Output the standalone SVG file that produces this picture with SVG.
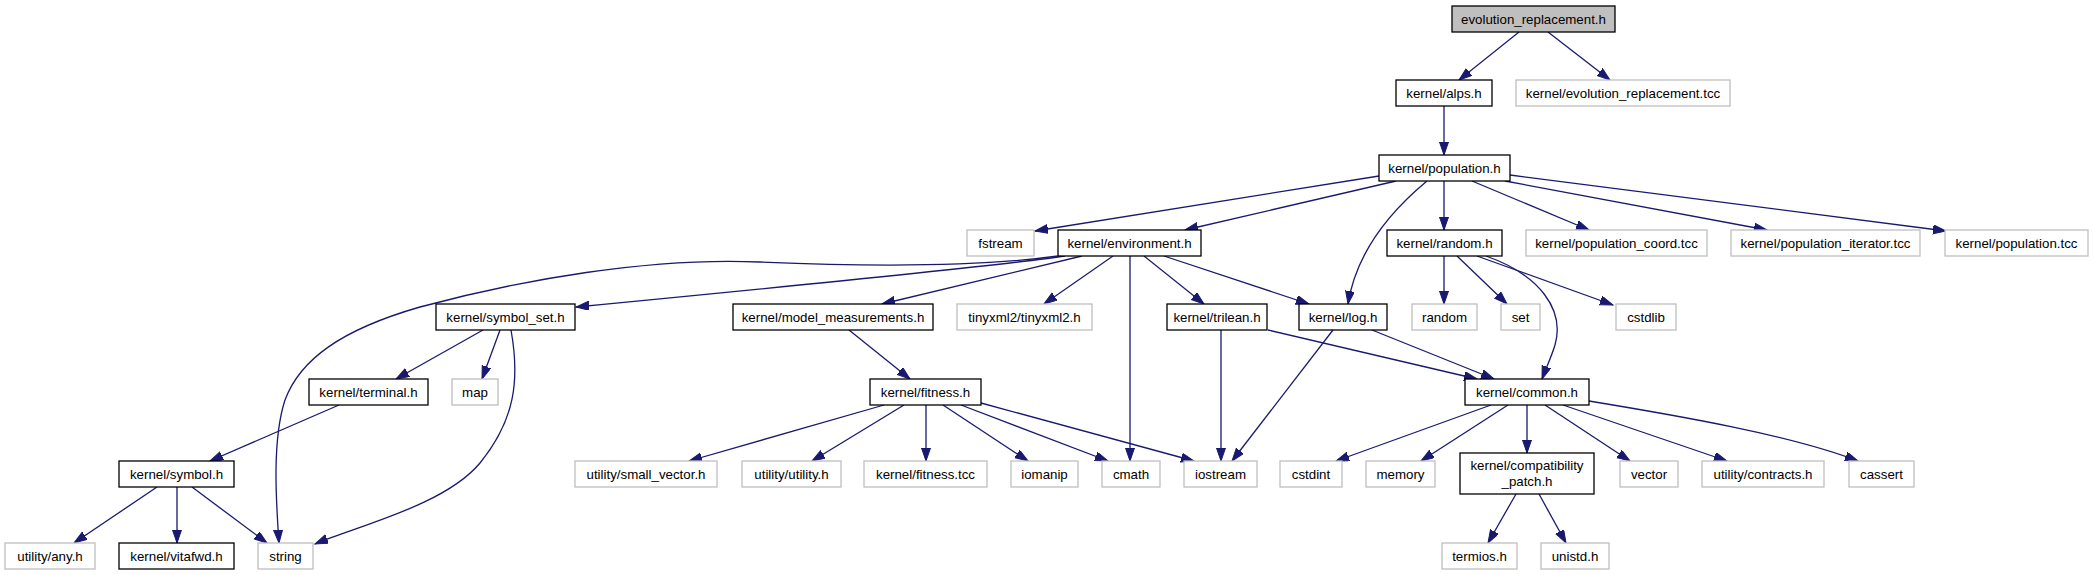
<svg xmlns="http://www.w3.org/2000/svg" width="2093" height="575" viewBox="0 0 2093 575">
<style>
rect{fill:#ffffff;stroke:#000000;stroke-width:1.3}
.g rect{stroke:#bfbfbf}
.root rect{fill:#bfbfbf}
text{font-family:"Liberation Sans",Arial,sans-serif;font-size:13.3px;fill:#000000;text-anchor:middle}
#edges path{fill:none;stroke:#191970;stroke-width:1.3;marker-end:url(#ah)}
</style>
<defs>
<marker id="ah" markerUnits="userSpaceOnUse" markerWidth="14" markerHeight="10" refX="13" refY="4.5" orient="auto">
<path d="M0,0 L13,4.5 L0,9 z" fill="#191970" stroke="#191970" stroke-width="1"/>
</marker>
</defs>
<rect x="0" y="0" width="2093" height="575" style="fill:#ffffff;stroke:none"/>
<g id="edges">
<path d="M1519,32 L1459,80"/>
<path d="M1548,32 L1610,80"/>
<path d="M1444,106 L1444,155"/>
<path d="M1379,176 L1035,231"/>
<path d="M1396,181 L1185,230"/>
<path d="M1427,181 C1380,220 1355,260 1348,304"/>
<path d="M1444,181 L1444,230"/>
<path d="M1472,181 L1589,230"/>
<path d="M1505,181 L1767,230"/>
<path d="M1510,175 L1946,231"/>
<path d="M1058,256 C1000,264 900,268 760,262 C650,257 520,280 420,307 C340,330 300,360 285,400 C272,440 276,500 279,543"/>
<path d="M1065,256 Q1000,266 576,307"/>
<path d="M1082,256 L882,304"/>
<path d="M1113,256 L1044,304"/>
<path d="M1130,256 L1130,461"/>
<path d="M1144,256 L1204,304"/>
<path d="M1164,256 L1309,304"/>
<path d="M1444,256 L1444,304"/>
<path d="M1457,256 L1507,304"/>
<path d="M1477,256 L1613,305"/>
<path d="M1486,256 C1540,275 1565,310 1555,345 C1551,358 1546,368 1542,379"/>
<path d="M1221,330 L1221,461"/>
<path d="M1268,330 L1477,379"/>
<path d="M1333,330 L1232,461"/>
<path d="M1372,330 L1494,379"/>
<path d="M483,330 L396,379"/>
<path d="M500,330 L482,379"/>
<path d="M511,330 C520,380 515,420 480,463 C445,505 360,525 315,544"/>
<path d="M339,405 L210,461"/>
<path d="M157,487 L74,543"/>
<path d="M177,487 L177,543"/>
<path d="M192,487 L267,543"/>
<path d="M849,330 L910,379"/>
<path d="M884,405 L689,461"/>
<path d="M904,405 L812,461"/>
<path d="M926,405 L926,461"/>
<path d="M943,405 L1028,461"/>
<path d="M961,405 L1108,461"/>
<path d="M981,403 L1194,461"/>
<path d="M1491,405 L1336,461"/>
<path d="M1508,405 L1421,461"/>
<path d="M1527,405 L1527,453"/>
<path d="M1545,405 L1630,461"/>
<path d="M1563,405 L1727,461"/>
<path d="M1589,401 C1680,416 1790,435 1858,461"/>
<path d="M1516,494 L1488,543"/>
<path d="M1539,494 L1566,543"/>
</g>
<g id="n_root" class="root"><rect x="1452" y="6" width="163" height="26"/><text x="1533.5" y="23.5">evolution_replacement.h</text></g>
<g id="n_alps"><rect x="1396" y="80" width="96" height="26"/><text x="1444" y="97.5">kernel/alps.h</text></g>
<g id="n_evo_tcc" class="g"><rect x="1516" y="80" width="214" height="26"/><text x="1623" y="97.5">kernel/evolution_replacement.tcc</text></g>
<g id="n_population"><rect x="1379" y="155" width="131" height="26"/><text x="1444.5" y="172.5">kernel/population.h</text></g>
<g id="n_fstream" class="g"><rect x="967" y="230" width="67" height="26"/><text x="1000.5" y="247.5">fstream</text></g>
<g id="n_environment"><rect x="1058" y="230" width="143" height="26"/><text x="1129.5" y="247.5">kernel/environment.h</text></g>
<g id="n_random_h"><rect x="1387" y="230" width="115" height="26"/><text x="1444.5" y="247.5">kernel/random.h</text></g>
<g id="n_pop_coord" class="g"><rect x="1526" y="230" width="181" height="26"/><text x="1616.5" y="247.5">kernel/population_coord.tcc</text></g>
<g id="n_pop_iter" class="g"><rect x="1731" y="230" width="189" height="26"/><text x="1825.5" y="247.5">kernel/population_iterator.tcc</text></g>
<g id="n_pop_tcc" class="g"><rect x="1945" y="230" width="143" height="26"/><text x="2016.5" y="247.5">kernel/population.tcc</text></g>
<g id="n_symbol_set"><rect x="436" y="304" width="139" height="26"/><text x="505.5" y="321.5">kernel/symbol_set.h</text></g>
<g id="n_model_meas"><rect x="733" y="304" width="200" height="26"/><text x="833" y="321.5">kernel/model_measurements.h</text></g>
<g id="n_tinyxml2" class="g"><rect x="957" y="304" width="135" height="26"/><text x="1024.5" y="321.5">tinyxml2/tinyxml2.h</text></g>
<g id="n_trilean"><rect x="1167" y="304" width="100" height="26"/><text x="1217" y="321.5">kernel/trilean.h</text></g>
<g id="n_log"><rect x="1299" y="304" width="88" height="26"/><text x="1343" y="321.5">kernel/log.h</text></g>
<g id="n_random" class="g"><rect x="1412" y="304" width="65" height="26"/><text x="1444.5" y="321.5">random</text></g>
<g id="n_set" class="g"><rect x="1501" y="304" width="39" height="26"/><text x="1520.5" y="321.5">set</text></g>
<g id="n_cstdlib" class="g"><rect x="1616" y="304" width="60" height="26"/><text x="1646" y="321.5">cstdlib</text></g>
<g id="n_terminal"><rect x="309" y="379" width="119" height="26"/><text x="368.5" y="396.5">kernel/terminal.h</text></g>
<g id="n_map" class="g"><rect x="452" y="379" width="46" height="26"/><text x="475" y="396.5">map</text></g>
<g id="n_fitness"><rect x="870" y="379" width="111" height="26"/><text x="925.5" y="396.5">kernel/fitness.h</text></g>
<g id="n_common"><rect x="1465" y="379" width="124" height="26"/><text x="1527" y="396.5">kernel/common.h</text></g>
<g id="n_symbol"><rect x="119" y="461" width="115" height="26"/><text x="176.5" y="478.5">kernel/symbol.h</text></g>
<g id="n_small_vector" class="g"><rect x="575" y="461" width="142" height="26"/><text x="646" y="478.5">utility/small_vector.h</text></g>
<g id="n_utility" class="g"><rect x="742" y="461" width="99" height="26"/><text x="791.5" y="478.5">utility/utility.h</text></g>
<g id="n_fitness_tcc" class="g"><rect x="864" y="461" width="123" height="26"/><text x="925.5" y="478.5">kernel/fitness.tcc</text></g>
<g id="n_iomanip" class="g"><rect x="1011" y="461" width="67" height="26"/><text x="1044.5" y="478.5">iomanip</text></g>
<g id="n_cmath" class="g"><rect x="1102" y="461" width="58" height="26"/><text x="1131" y="478.5">cmath</text></g>
<g id="n_iostream" class="g"><rect x="1184" y="461" width="73" height="26"/><text x="1220.5" y="478.5">iostream</text></g>
<g id="n_cstdint" class="g"><rect x="1280" y="461" width="62" height="26"/><text x="1311" y="478.5">cstdint</text></g>
<g id="n_memory" class="g"><rect x="1366" y="461" width="69" height="26"/><text x="1400.5" y="478.5">memory</text></g>
<g id="n_compat"><rect x="1460" y="453" width="134" height="41"/><text x="1527" y="470">kernel/compatibility</text><text x="1527" y="485.5">_patch.h</text></g>
<g id="n_vector" class="g"><rect x="1620" y="461" width="58" height="26"/><text x="1649" y="478.5">vector</text></g>
<g id="n_contracts" class="g"><rect x="1702" y="461" width="122" height="26"/><text x="1763" y="478.5">utility/contracts.h</text></g>
<g id="n_cassert" class="g"><rect x="1849" y="461" width="65" height="26"/><text x="1881.5" y="478.5">cassert</text></g>
<g id="n_any" class="g"><rect x="5" y="543" width="90" height="26"/><text x="50" y="560.5">utility/any.h</text></g>
<g id="n_vitafwd"><rect x="119" y="543" width="115" height="26"/><text x="176.5" y="560.5">kernel/vitafwd.h</text></g>
<g id="n_string" class="g"><rect x="258" y="543" width="55" height="26"/><text x="285.5" y="560.5">string</text></g>
<g id="n_termios" class="g"><rect x="1442" y="543" width="75" height="26"/><text x="1479.5" y="560.5">termios.h</text></g>
<g id="n_unistd" class="g"><rect x="1541" y="543" width="68" height="26"/><text x="1575" y="560.5">unistd.h</text></g>
</svg>
